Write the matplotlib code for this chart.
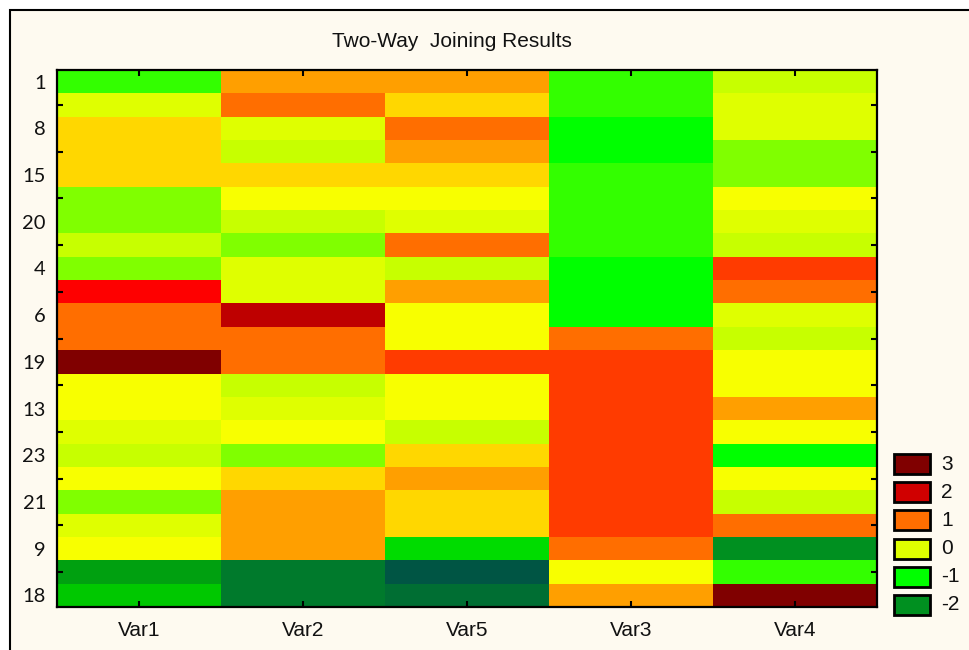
import numpy as np
import matplotlib
matplotlib.use("Agg")
import matplotlib.pyplot as plt
from matplotlib.colors import LinearSegmentedColormap, Normalize
from matplotlib.patches import Rectangle

# columns in joined order, rows in joined order (23 cases)
columns = ["Var1", "Var2", "Var5", "Var3", "Var4"]
row_labels = ["1", "", "8", "", "15", "", "20", "", "4", "", "6", "",
              "19", "", "13", "", "23", "", "21", "", "9", "", "18"]

var1 = [-0.8, 0, 0.5, 0.5, 0.5, -0.5, -0.5, -0.2, -0.5, 1.8, 1.0, 1.0,
        3.0, 0.2, 0.2, 0, -0.2, 0.2, -0.5, 0, 0.2, -1.8, -1.5]
var2 = [0.75, 1.0, 0, -0.2, 0.5, 0.2, -0.2, -0.5, 0, 0, 2.4, 1.0,
        1.0, -0.2, 0, 0.2, -0.5, 0.5, 0.75, 0.75, 0.75, -2.2, -2.2]
var5 = [0.75, 0.5, 1.0, 0.75, 0.5, 0.2, 0, 1.0, -0.2, 0.75, 0.2, 0.2,
        1.5, 0.2, 0.2, -0.2, 0.5, 0.75, 0.5, 0.5, -1.25, -3.0, -2.5]
var3 = [-0.8, -0.8, -1.0, -1.0, -0.8, -0.8, -0.8, -0.8, -1.0, -1.0, -1.0, 1.0,
        1.5, 1.5, 1.5, 1.5, 1.5, 1.5, 1.5, 1.5, 1.0, 0.2, 0.75]
var4 = [-0.2, 0, 0, -0.5, -0.5, 0.2, 0, -0.2, 1.5, 1.0, 0, -0.2,
        0.2, 0.2, 0.75, 0.2, -1.0, 0.2, -0.2, 1.0, -2.0, -0.8, 3.0]

legend_levels = [3, 2, 1, 0, -1, -2]

# colour scale (STATISTICA-like green-yellow-red)
nodes = [(-3.0, "#005544"), (-2.5, "#006e33"), (-2.2, "#007a2c"), (-2.0, "#009020"),
         (-1.8, "#00a010"), (-1.5, "#00c800"), (-1.25, "#00dc00"), (-1.0, "#00ff00"),
         (-0.8, "#33ff00"), (-0.5, "#80ff00"), (-0.2, "#c8ff00"), (0.0, "#dfff00"),
         (0.2, "#f8ff00"), (0.5, "#ffd700"), (0.75, "#ffa000"), (1.0, "#ff6e00"),
         (1.5, "#ff3c00"), (1.8, "#ff0000"), (2.0, "#d00000"), (2.4, "#be0000"),
         (3.0, "#800000")]
vmin, vmax = -3.0, 3.0
cmap = LinearSegmentedColormap.from_list(
    "joining", [((v - vmin) / (vmax - vmin), c) for v, c in nodes], N=1024)
norm = Normalize(vmin, vmax)

data = np.array([var1, var2, var5, var3, var4]).T

W, H = 970, 650
fig = plt.figure(figsize=(W / 100, H / 100), dpi=100, facecolor="white")

# cream panel with thin black frame
fig.add_artist(Rectangle((10 / W, -0.1), 1.2, 1 - 10 / H + 0.1, transform=fig.transFigure,
                         facecolor="#fefaf0", edgecolor="black", linewidth=1.5, zorder=0))

ax = fig.add_axes([57 / W, 1 - 607 / H, 820 / W, 537 / H])
ax.pcolormesh(np.arange(len(columns) + 1), np.arange(len(row_labels) + 1), data,
              cmap=cmap, norm=norm, shading="flat")
ax.set_xlim(0, len(columns))
ax.set_ylim(len(row_labels), 0)

for s in ax.spines.values():
    s.set_linewidth(1.6)
    s.set_color("black")

xt = np.arange(len(columns)) + 0.5
ax.set_xticks(xt)
ax.set_xticklabels(columns, fontsize=15, family="Liberation Sans", color="#111111")
ax.tick_params(axis="x", direction="in", length=4, width=1.5, top=True, pad=10)

labeled = [i for i, t in enumerate(row_labels) if t]
unlabeled = [i for i, t in enumerate(row_labels) if not t]
ax.set_yticks(np.array(labeled) + 0.5)
ax.set_yticklabels([row_labels[i] for i in labeled], fontsize=14.5, family="Lato",
                   color="#111111")
ax.set_yticks(np.array(unlabeled) + 0.5, minor=True)
ax.tick_params(axis="y", which="major", length=0, pad=8)
ax.tick_params(axis="y", which="minor", direction="in", length=4, width=1.5, right=True)

fig.text(452 / W, 1 - 47 / H, "Two-Way  Joining Results", ha="center", va="baseline",
         fontsize=15, family="Liberation Sans", color="#111111")

# legend
for k, lv in enumerate(legend_levels):
    yc = 464 + 28.2 * k
    fig.add_artist(Rectangle((894 / W, 1 - (yc + 10) / H), 36 / W, 20 / H,
                             transform=fig.transFigure, facecolor=cmap(norm(lv)),
                             edgecolor="black", linewidth=2))
    fig.text(941 / W, 1 - yc / H, str(lv), ha="left", va="center", fontsize=15,
             family="Liberation Sans", color="#111111")

fig.savefig("out.png", dpi=100, facecolor=fig.get_facecolor())
